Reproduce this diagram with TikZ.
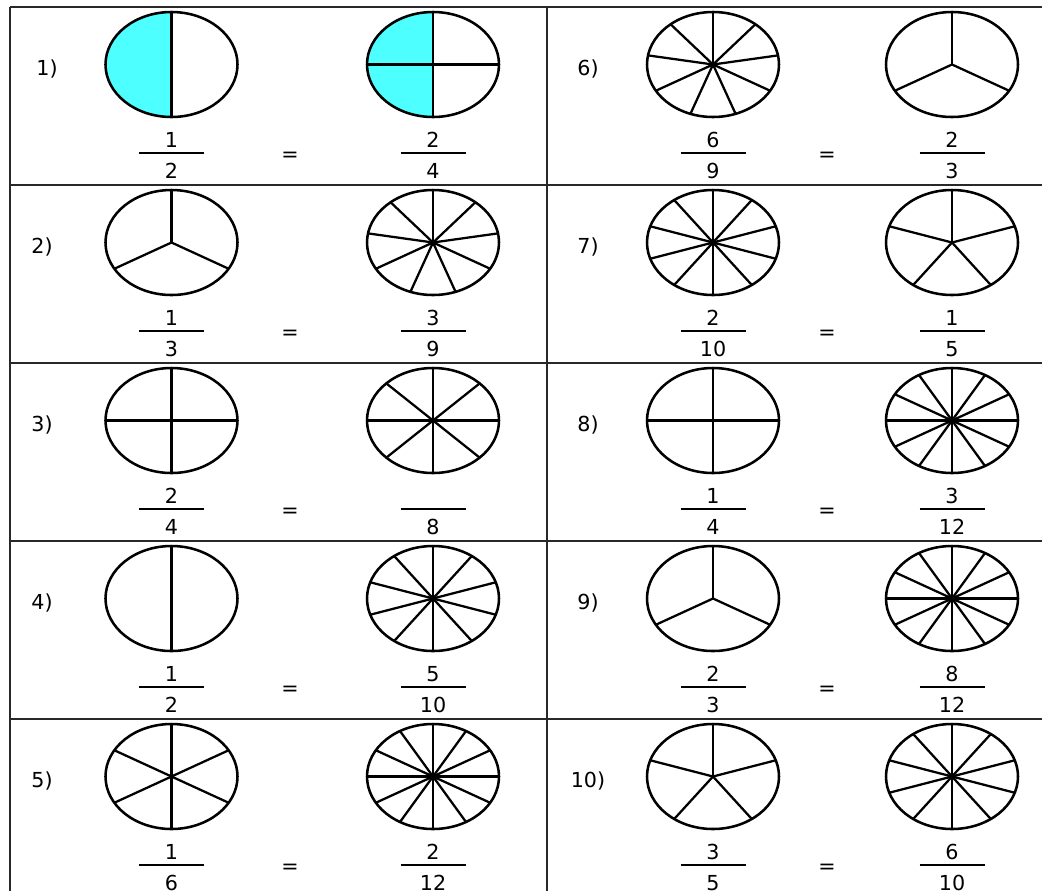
\documentclass[tikz,border=0pt]{standalone}
\usepackage{fontspec}
\setmainfont{DejaVu Sans}
\definecolor{cyanfill}{RGB}{77,255,255}
\definecolor{gridc}{RGB}{40,40,40}
\tikzset{
  pie/.style={line width=1.9pt, draw=black},
  spoke/.style={line width=1.7pt, draw=black},
  gridline/.style={line width=1.8pt, draw=gridc},
  txt/.style={font=\fontsize{15.5}{18}\selectfont, inner sep=0pt, anchor=base},
  fracbar/.style={line width=1.3pt, draw=black},
}
% \mypie{cx}{cy}{n}
\newcommand{\mypie}[3]{%
  \draw[pie] (#1,#2) ellipse [x radius=66, y radius=52.5];
  \foreach \k in {1,...,#3}{%
    \draw[spoke] (#1,#2) -- ++({66*cos(90+360*\k/#3)},{-52.5*sin(90+360*\k/#3)});
  }%
}
% \myfrac{name}{cx}{T}{num}{den}
\newcommand{\myfrac}[5]{%
  \node[txt] (#1n) at (#2,#3+140) {#4};
  \node[txt] (#1d) at (#2,#3+171) {#5};
  \coordinate (#1l) at (#2-32.5,#3+146);
  \coordinate (#1r) at (#2+32.5,#3+146);
  \draw[fracbar] (#1l) -- (#1r);
}
% \mycell{id}{T}{label}{labx}{pieA x}{pieB x}{eq x}{nA}{nB}
\newcommand{\mycell}[9]{%
  \node[txt] (lab#1) at (#4,#2+68) {#3};
  \mypie{#5}{#2+57.5}{#8}
  \mypie{#6}{#2+57.5}{#9}
  \node[txt] (eq#1) at (#7,#2+154) {=};
}
\begin{document}
\begin{tikzpicture}[x=0.75pt,y=-0.75pt]
\useasboundingbox (0,0) rectangle (1042,890);
\fill[white] (0,0) rectangle (1042,890);
\clip (0,0) rectangle (1042,890);
% shading of problem 1
\fill[cyanfill] (171.5,64.5) -- ++(0,-52.5) arc[start angle=270, end angle=90, x radius=66, y radius=52.5] -- cycle;
\fill[cyanfill] (433,64.5) -- ++(0,-52.5) arc[start angle=270, end angle=90, x radius=66, y radius=52.5] -- cycle;
% table grid
\draw[gridline] (10,7) -- (1060,7);
\foreach \y in {185,363,541,719}{\draw[gridline] (10,\y) -- (1060,\y);}
\draw[gridline] (10,7) -- (10,900);
\draw[gridline] (547,7) -- (547,900);
% left column
\mycell{1}{7}{1)}{47}{171.5}{433}{290}{2}{4}
\myfrac{fa1}{171.5}{7}{1}{2}
\myfrac{fb1}{433}{7}{2}{4}
\mycell{2}{185}{2)}{42}{171.5}{433}{290}{3}{9}
\myfrac{fa2}{171.5}{185}{1}{3}
\myfrac{fb2}{433}{185}{3}{9}
\mycell{3}{363}{3)}{42}{171.5}{433}{290}{4}{8}
\myfrac{fa3}{171.5}{363}{2}{4}
\myfrac{fb3}{433}{363}{}{8}
\mycell{4}{541}{4)}{42}{171.5}{433}{290}{2}{10}
\myfrac{fa4}{171.5}{541}{1}{2}
\myfrac{fb4}{433}{541}{5}{10}
\mycell{5}{719}{5)}{42}{171.5}{433}{290}{6}{12}
\myfrac{fa5}{171.5}{719}{1}{6}
\myfrac{fb5}{433}{719}{2}{12}
% right column
\mycell{6}{7}{6)}{588}{713}{952}{827}{9}{3}
\myfrac{fa6}{713}{7}{6}{9}
\myfrac{fb6}{952}{7}{2}{3}
\mycell{7}{185}{7)}{588}{713}{952}{827}{10}{5}
\myfrac{fa7}{713}{185}{2}{10}
\myfrac{fb7}{952}{185}{1}{5}
\mycell{8}{363}{8)}{588}{713}{952}{827}{4}{12}
\myfrac{fa8}{713}{363}{1}{4}
\myfrac{fb8}{952}{363}{3}{12}
\mycell{9}{541}{9)}{588}{713}{952}{827}{3}{12}
\myfrac{fa9}{713}{541}{2}{3}
\myfrac{fb9}{952}{541}{8}{12}
\mycell{10}{719}{10)}{588}{713}{952}{827}{5}{10}
\myfrac{fa10}{713}{719}{3}{5}
\myfrac{fb10}{952}{719}{6}{10}
\end{tikzpicture}
\end{document}
